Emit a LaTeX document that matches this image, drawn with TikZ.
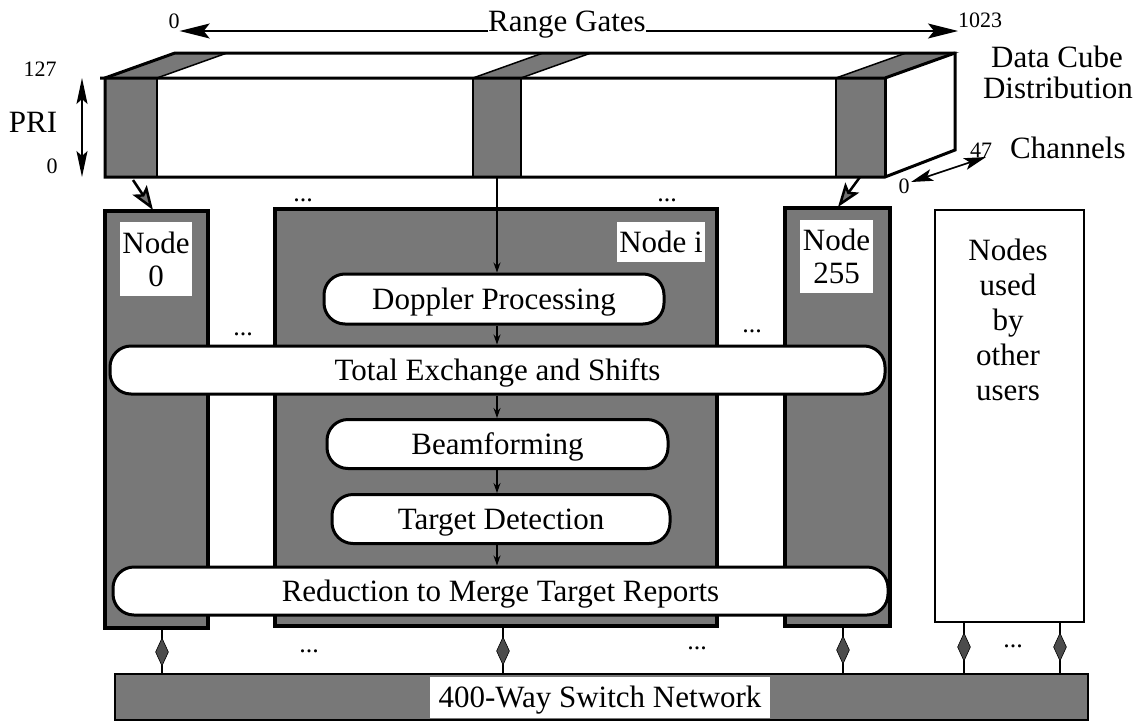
\documentclass[tikz,border=0pt]{standalone}
\usepackage{fontspec}
\setmainfont{Liberation Serif}
\usetikzlibrary{arrows.meta,shapes.geometric}
\definecolor{halftone}{gray}{0.47}
\tikzset{
  lbl/.style={inner sep=0pt, font=\fontsize{31}{35}\selectfont},
  sm/.style={inner sep=0pt, font=\fontsize{22}{24}\selectfont},
  dotstyle/.style={inner sep=0pt, font=\fontsize{26}{26}\selectfont},
  nodebox/.style={draw=black, line width=4pt, fill=halftone, inner sep=0pt},
  userbox/.style={draw=black, line width=2.5pt, fill=white, inner sep=0pt},
  pill/.style={draw=black, line width=3pt, fill=white, rounded corners=21pt, inner sep=0pt,
    text height=21pt, text depth=0pt, font=\fontsize{31}{35}\selectfont},
  whitelab/.style={fill=white, inner sep=0pt, align=center, font=\fontsize{31}{33}\selectfont},
  dia/.style={diamond, fill=black!70, draw=black, line width=0.6pt, minimum width=13pt, minimum height=28pt, inner sep=0pt},
  gatearrow/.style={line width=1.3pt, -{Stealth[length=30pt,width=15pt,inset=6pt]}},
  priarrow/.style={line width=1.6pt, {Stealth[length=26pt,width=11pt,inset=5pt]}-{Stealth[length=26pt,width=11pt,inset=5pt]}},
  chanarrow/.style={line width=1.6pt, {Stealth[length=22pt,width=12pt,inset=5pt]}-{Stealth[length=22pt,width=12pt,inset=5pt]}},
  colarrow/.style={line width=2.5pt, -{Stealth[length=24pt,width=17pt,inset=5pt,fill=black!55]}},
  flow/.style={line width=1.2pt, -{Stealth[length=10pt,width=7pt]}},
  cubeline/.style={line width=3pt, line join=miter},
  colline/.style={line width=1.5pt},
}
\begin{document}
\begin{tikzpicture}[x=1pt,y=-1pt]
\useasboundingbox (0,0) rectangle (1140,723);

% ---------- data cube ----------
\fill[white] (105,78) rectangle (885,177);
\fill[white] (105,78) -- (175,53) -- (955,53) -- (885,78) -- cycle;
\fill[white] (885,78) -- (955,53) -- (955,150) -- (885,177) -- cycle;
% shaded columns
\filldraw[fill=halftone, colline] (105,78) rectangle (157,177);
\filldraw[fill=halftone, colline] (473,78) rectangle (521,177);
\filldraw[fill=halftone, colline] (836,78) rectangle (885,177);
\filldraw[fill=halftone, colline] (105,78) -- (175,53) -- (227,53) -- (157,78) -- cycle;
\filldraw[fill=halftone, colline] (473,78) -- (543,53) -- (591,53) -- (521,78) -- cycle;
\filldraw[fill=halftone, colline] (836,78) -- (906,53) -- (955,53) -- (885,78) -- cycle;
% outline
\draw[cubeline] (105,177) -- (105,78) -- (175,53) -- (955,53) -- (955,150) -- (885,177) -- cycle;
\draw[cubeline] (100,78) -- (885,78) -- (955,53);
\draw[cubeline] (885,78) -- (885,177);

% ---------- axis labels ----------
\node[sm] (z0) at (174,21) {0};
\node[lbl, anchor=base] (rg) at (567,31) {Range Gates};
\node[sm, anchor=base west] (r1023) at (958,27) {1023};
\draw[gatearrow] (rg.base west) -- (rg.base west -| z0.east);
\draw[gatearrow] (rg.base east) -- (rg.base east -| r1023.west);

\node[sm] (n127) at (40,69) {127};
\node[lbl, anchor=base] (pri) at (33,132) {PRI};
\node[sm] (zpri) at (52,166) {0};
\coordinate (pt) at (82,78);
\coordinate (pb) at (82,177);
\draw[priarrow] (pt) -- (pb);

\node[lbl, anchor=base] (dc1) at (1057,67) {Data Cube};
\node[lbl, anchor=base] (dc2) at (1058,98) {Distribution};
\node[sm, anchor=base west] (c47) at (970,157) {47};
\node[lbl, anchor=base west] (chan) at (1010,158) {Channels};
\node[sm] (zch) at (904,186) {0};
\coordinate (ch0) at (911,182);
\coordinate (ch47) at (986,157);
\draw[chanarrow] (ch0) -- (ch47);

% ---------- processing nodes ----------
\node[nodebox, minimum width=103pt, minimum height=417pt] (n0) at (156.5,419.5) {};
\node[nodebox, minimum width=442pt, minimum height=417pt] (ni) at (496,417.5) {};
\node[nodebox, minimum width=105pt, minimum height=418pt] (n255) at (837.5,417) {};
\node[userbox, minimum width=149pt, minimum height=412pt] (users) at (1009.5,416) {};
\node[lbl, align=center, font=\fontsize{31}{35}\selectfont] (userstxt) at (1008,320) {Nodes\\used\\by\\other\\users};

\node[whitelab, minimum width=72pt, minimum height=74pt] (l0) at (156,259) {Node\\0};
\node[whitelab, minimum width=88pt, minimum height=40pt, text height=21pt, text depth=0pt] (li) at (661,242) {Node i};
\node[whitelab, minimum width=73pt, minimum height=73pt] (l255) at (836.5,256.5) {Node\\255};

% pills
\node[pill, minimum width=340pt, minimum height=50pt] (dp) at (494,299) {Doppler Processing};
\node[pill, minimum width=775pt, minimum height=48pt] (tx) at (497.5,370) {Total Exchange and Shifts};
\node[pill, minimum width=341pt, minimum height=49pt] (bf) at (497.5,444) {Beamforming};
\node[pill, minimum width=338pt, minimum height=49pt] (td) at (501,519) {Target Detection};
\node[pill, minimum width=775pt, minimum height=48pt] (rd) at (500.5,591) {Reduction to Merge Target Reports};

% flow inside node i
\coordinate (c2) at (497,177);
\draw[flow] (c2) -- (c2 |- dp.north);
\draw[flow] (dp.south -| c2) -- (c2 |- tx.north);
\draw[flow] (tx.south -| c2) -- (c2 |- bf.north);
\draw[flow] (bf.south -| c2) -- (c2 |- td.north);
\draw[flow] (td.south -| c2) -- (c2 |- rd.north);

% distribution arrows from cube
\coordinate (c1) at (133,180);
\coordinate (c1e) at (153,210);
\coordinate (c3) at (860,177);
\coordinate (c3e) at (838,207);
\draw[colarrow] (c1) -- (c1e);
\draw[colarrow] (c3) -- (c3e);

% dots
\node[dotstyle, anchor=base] (e1) at (303,201) {...};
\node[dotstyle, anchor=base] (e2) at (243,335) {...};
\node[dotstyle, anchor=base] (e3) at (667,201) {...};
\node[dotstyle, anchor=base] (e4) at (752,332) {...};
\node[dotstyle, anchor=base] (e5) at (309,652) {...};
\node[dotstyle, anchor=base] (e6) at (697,649) {...};
\node[dotstyle, anchor=base] (e7) at (1013,647) {...};

% ---------- switch network ----------
\node[draw=black, line width=2.5pt, fill=halftone, inner sep=0pt, minimum width=973pt, minimum height=46pt] (sw) at (601.5,697) {};
\node[fill=white, inner sep=0pt, minimum width=340pt, minimum height=41pt, text height=21pt, text depth=0pt, font=\fontsize{31}{35}\selectfont] (swt) at (600,697) {400-Way Switch Network};

% links to switch
\coordinate (x1) at (162,0);
\coordinate (x2) at (503,0);
\coordinate (x3) at (843,0);
\coordinate (x4) at (964,0);
\coordinate (x5) at (1060,0);
\draw[line width=1.3pt] (x1 |- n0.south) -- (x1 |- sw.north);
\draw[line width=1.3pt] (x2 |- ni.south) -- (x2 |- sw.north);
\draw[line width=1.3pt] (x3 |- n255.south) -- (x3 |- sw.north);
\draw[line width=1.3pt] (x4 |- users.south) -- (x4 |- sw.north);
\draw[line width=1.3pt] (x5 |- users.south) -- (x5 |- sw.north);
\node[dia] (d1) at (162,652) {};
\node[dia] (d2) at (503,651) {};
\node[dia] (d3) at (843,650) {};
\node[dia] (d4) at (964,647) {};
\node[dia] (d5) at (1060,647) {};
\end{tikzpicture}
\end{document}
